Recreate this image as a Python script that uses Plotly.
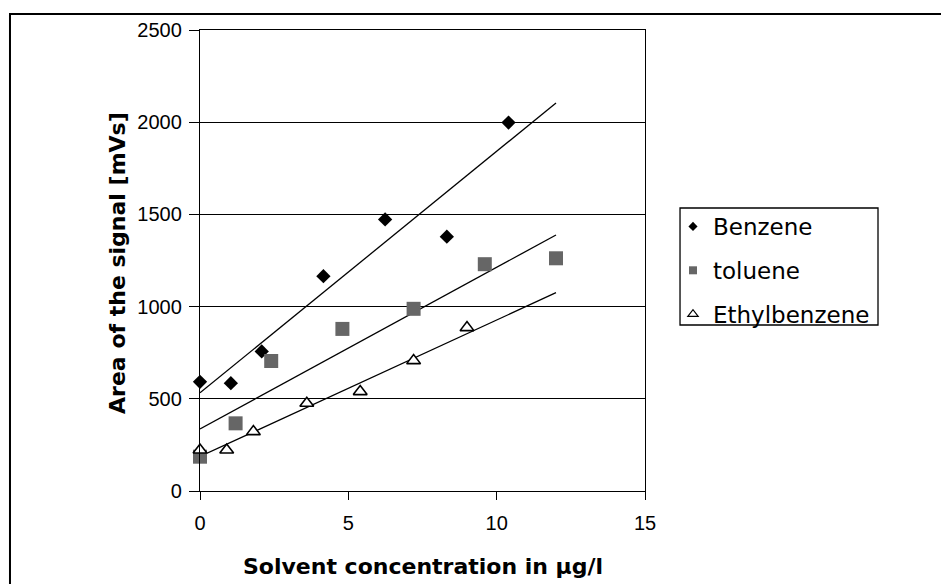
import numpy as np
import plotly.graph_objects as go

# ---- data ----
benzene_x = [0, 1.04, 2.08, 4.16, 6.24, 8.32, 10.4]
benzene_y = [592, 585, 757, 1165, 1473, 1379, 1998]

toluene_x = [0, 1.2, 2.4, 4.8, 7.2, 9.6, 12]
toluene_y = [186, 367, 705, 879, 988, 1230, 1262]

ethyl_x = [0, 0.9, 1.8, 3.6, 5.4, 7.2, 9.0]
ethyl_y = [222, 222, 322, 476, 539, 707, 886]

trend_x = [0, 12]  # span of the linear trendlines

x_ticks = [0, 5, 10, 15]
y_ticks = [0, 500, 1000, 1500, 2000, 2500]

series = [
    ("Benzene", benzene_x, benzene_y,
     dict(symbol="diamond", size=11, color="black", line=dict(width=0)),
     dict(symbol="diamond", size=7, color="black", line=dict(width=0))),
    ("toluene", toluene_x, toluene_y,
     dict(symbol="square", size=14, color="#666666", line=dict(width=0)),
     dict(symbol="square", size=8, color="#666666", line=dict(width=0))),
    ("Ethylbenzene", ethyl_x, ethyl_y,
     dict(symbol="triangle-up", size=12, color="white", line=dict(width=1.6, color="black")),
     dict(symbol="triangle-up", size=9, color="white", line=dict(width=1.2, color="black"))),
]

fig = go.Figure()

# trendlines (least-squares fits of each series)
for name, xs, ys, _, _ in series:
    slope, intercept = np.polyfit(xs, ys, 1)
    tx = np.array(trend_x, dtype=float)
    fig.add_trace(go.Scatter(
        x=tx, y=slope * tx + intercept, mode="lines",
        line=dict(color="black", width=1.3),
        showlegend=False, hoverinfo="skip"))

for i, (name, xs, ys, mk, lmk) in enumerate(series):
    fig.add_trace(go.Scatter(
        x=xs, y=ys, mode="markers", name=name, marker=mk,
        showlegend=False, cliponaxis=False))
    # legend entry with the smaller legend symbol
    fig.add_trace(go.Scatter(
        x=[None], y=[None], mode="markers", name=name, marker=lmk,
        legendgroup=f"g{i}", showlegend=True))

tick_font = dict(family="Liberation Sans, Arial, sans-serif", size=20, color="black")

fig.update_layout(
    width=941, height=576,
    margin=dict(l=192, r=304, t=22, b=93),
    paper_bgcolor="white", plot_bgcolor="white",
    showlegend=True,
    legend=dict(
        x=1.0629, y=0.6205, xanchor="left", yanchor="top",
        borderwidth=0, bgcolor="rgba(0,0,0,0)",
        font=dict(family="DejaVu Sans, sans-serif", size=23, color="black"),
        tracegroupgap=11, itemwidth=30,
    ),
    xaxis=dict(
        range=[0, 15], tickvals=x_ticks, ticktext=[str(v) for v in x_ticks],
        showgrid=False, zeroline=False,
        showline=True, linecolor="black", linewidth=1.3, mirror=True,
        ticks="outside", ticklen=8, tickcolor="black", tickwidth=1.2,
        tickfont=tick_font, ticklabelstandoff=6,
    ),
    yaxis=dict(
        range=[0, 2500], tickvals=y_ticks, ticktext=[str(v) for v in y_ticks],
        showgrid=True, gridcolor="black", gridwidth=1.3, zeroline=False,
        showline=True, linecolor="black", linewidth=1.3, mirror=True,
        ticks="outside", ticklen=10, tickcolor="black", tickwidth=1.2,
        tickfont=tick_font, ticklabelstandoff=3,
    ),
    annotations=[
        dict(text="<b>Solvent concentration in μg/l</b>", xref="paper", yref="paper",
             x=0.5, y=-0.163, xanchor="center", yanchor="middle", showarrow=False,
             font=dict(family="DejaVu Sans, sans-serif", size=22, color="black")),
        dict(text="<b>Area of the signal [mVs]</b>", xref="paper", yref="paper",
             x=-0.184, y=0.495, xanchor="center", yanchor="middle", showarrow=False,
             textangle=-90,
             font=dict(family="DejaVu Sans, sans-serif", size=22, color="black")),
    ],
    shapes=[
        # outer chart frame
        dict(type="rect", xref="paper", yref="paper",
             x0=-0.427, x1=1.75, y0=-0.3, y1=1.0347,
             line=dict(color="black", width=2), fillcolor="rgba(0,0,0,0)", layer="below"),
        # legend frame
        dict(type="rect", xref="paper", yref="paper",
             x0=1.0787, x1=1.5236, y0=0.3601, y1=0.6139,
             line=dict(color="black", width=1.3), fillcolor="white", layer="below"),
    ],
)

fig.write_html("out.html")
